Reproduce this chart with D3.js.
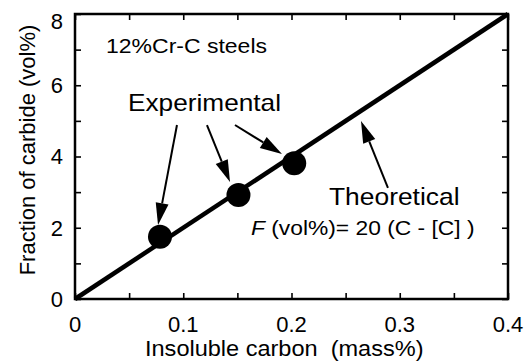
<!DOCTYPE html>
<meta charset="utf-8">
<html>
<head>
<title>Fraction of carbide</title>
<script src="https://cdn.jsdelivr.net/npm/d3@7"></script>
<style>
  body { margin: 0; background: #fff; }
  text { font-family: 'Liberation Sans', Arial, Helvetica, sans-serif; fill: #000; white-space: pre; }
</style>
</head>
<body>
<script>

  // data
  var expCarbon = [0.0785, 0.151, 0.2025];
  var expFraction = [1.75, 2.92, 3.81];
  var theoryCarbon = [0, 0.4];
  var theoryFraction = [0, 8];

  var xTicks = [0, 0.1, 0.2, 0.3, 0.4];
  var xTickLabels = ["0", "0.1", "0.2", "0.3", "0.4"];
  var xMinor = [0.05, 0.15, 0.25, 0.35];
  var yTicks = [0, 2, 4, 6, 8];
  var yTickLabels = ["0", "2", "4", "6", "8"];
  var yMinor = [1, 3, 5, 7];

  var W = 528, H = 361;
  var plotL = 75, plotR = 508, plotT = 14, plotB = 299;

  var svg = d3.select("body").append("svg")
      .attr("width", W)
      .attr("height", H);

  var x = d3.scaleLinear().domain([0, 0.4]).range([plotL, plotR]);
  var y = d3.scaleLinear().domain([0, 8]).range([plotB, plotT]);

  var allX = xTicks.concat(xMinor);
  var allY = yTicks.concat(yMinor);

  // inward ticks on all four sides
  function ticksOnly(axis, g) {
    g.call(axis);
    g.select(".domain").remove();
    g.selectAll("line").attr("stroke", "#000").attr("stroke-width", 1.6);
    g.selectAll("text").remove();
  }
  ticksOnly(d3.axisBottom(x).tickValues(allX).tickSize(-6),
    svg.append("g").attr("transform", "translate(0," + plotB + ")"));
  ticksOnly(d3.axisTop(x).tickValues(allX).tickSize(-6),
    svg.append("g").attr("transform", "translate(0," + plotT + ")"));
  ticksOnly(d3.axisLeft(y).tickValues(allY).tickSize(-6),
    svg.append("g").attr("transform", "translate(" + plotL + ",0)"));
  ticksOnly(d3.axisRight(y).tickValues(allY).tickSize(-6),
    svg.append("g").attr("transform", "translate(" + plotR + ",0)"));

  // tick labels
  svg.selectAll("x-label")
    .data(xTicks)
    .enter()
      .append("text")
      .attr("x", function(d) { return x(d); })
      .attr("y", 332)
      .attr("text-anchor", "middle")
      .attr("font-size", 22)
      .text(function(d, i) { return xTickLabels[i]; });

  svg.selectAll("y-label")
    .data(yTicks)
    .enter()
      .append("text")
      .attr("x", 63)
      .attr("y", function(d) { return Math.max(y(d), 21); })
      .attr("dy", "0.36em")
      .attr("text-anchor", "end")
      .attr("font-size", 22)
      .text(function(d, i) { return yTickLabels[i]; });

  // frame
  svg.append("rect")
    .attr("x", plotL).attr("y", plotT)
    .attr("width", plotR - plotL).attr("height", plotB - plotT)
    .attr("fill", "none")
    .attr("stroke", "#000")
    .attr("stroke-width", 2.5);

  // theoretical line
  var line = d3.line()
    .x(function(d) { return x(d[0]); })
    .y(function(d) { return y(d[1]); });
  svg.append("path")
    .datum(d3.zip(theoryCarbon, theoryFraction))
    .attr("d", line)
    .attr("fill", "none")
    .attr("stroke", "#000")
    .attr("stroke-width", 4.5);

  // experimental points
  svg.selectAll("exp-dot")
    .data(d3.zip(expCarbon, expFraction))
    .enter()
      .append("circle")
      .attr("cx", function(d) { return x(d[0]); })
      .attr("cy", function(d) { return y(d[1]); })
      .attr("r", 12)
      .attr("fill", "#000");

  // arrows, given in data units: [fromC, fromF, toC, toF]
  var arrows = [
    [0.0942, 4.884, 0.0767, 2.077],
    [0.1219, 4.884, 0.1432, 3.284],
    [0.1478, 4.884, 0.1912, 4.070],
    [0.2891, 3.116, 0.2642, 4.996]
  ];
  arrows.forEach(function(a) {
    var x1 = x(a[0]), y1 = y(a[1]), x2 = x(a[2]), y2 = y(a[3]);
    var dx = x2 - x1, dy = y2 - y1, len = Math.sqrt(dx * dx + dy * dy);
    var ux = dx / len, uy = dy / len;
    var hl = 22, hw = 6.5;
    var bx = x2 - ux * hl, by = y2 - uy * hl;
    svg.append("line")
      .attr("x1", x1).attr("y1", y1)
      .attr("x2", bx).attr("y2", by)
      .attr("stroke", "#000")
      .attr("stroke-width", 2);
    svg.append("path")
      .attr("d", "M" + x2 + "," + y2 +
        "L" + (bx - uy * hw) + "," + (by + ux * hw) +
        "L" + (bx + uy * hw) + "," + (by - ux * hw) + "Z")
      .attr("fill", "#000");
  });

  // annotation texts
  function label(px, py, size, sx, str) {
    return svg.append("text")
      .attr("transform", "translate(" + px + "," + py + ") scale(" + sx + ",1)")
      .attr("font-size", size)
      .text(str);
  }
  label(106, 53, 20, 1.15, "12%Cr-C steels");
  label(128, 111, 23, 1.14, "Experimental");
  label(329, 205, 24, 1.1, "Theoretical");

  var f = svg.append("text")
    .attr("transform", "translate(251,235) scale(1.14,1)")
    .attr("font-size", 20);
  f.append("tspan").attr("font-style", "italic").text("F");
  f.append("tspan").text(" (vol%)= 20 (C - [C] )");

  // axis titles
  label(145, 356, 22, 1.07, "Insoluble carbon  (mass%)");

  svg.append("text")
    .attr("transform", "translate(35,150) rotate(-90)")
    .attr("text-anchor", "middle")
    .attr("font-size", 22)
    .text("Fraction of carbide (vol%)");

</script>
</body>
</html>
